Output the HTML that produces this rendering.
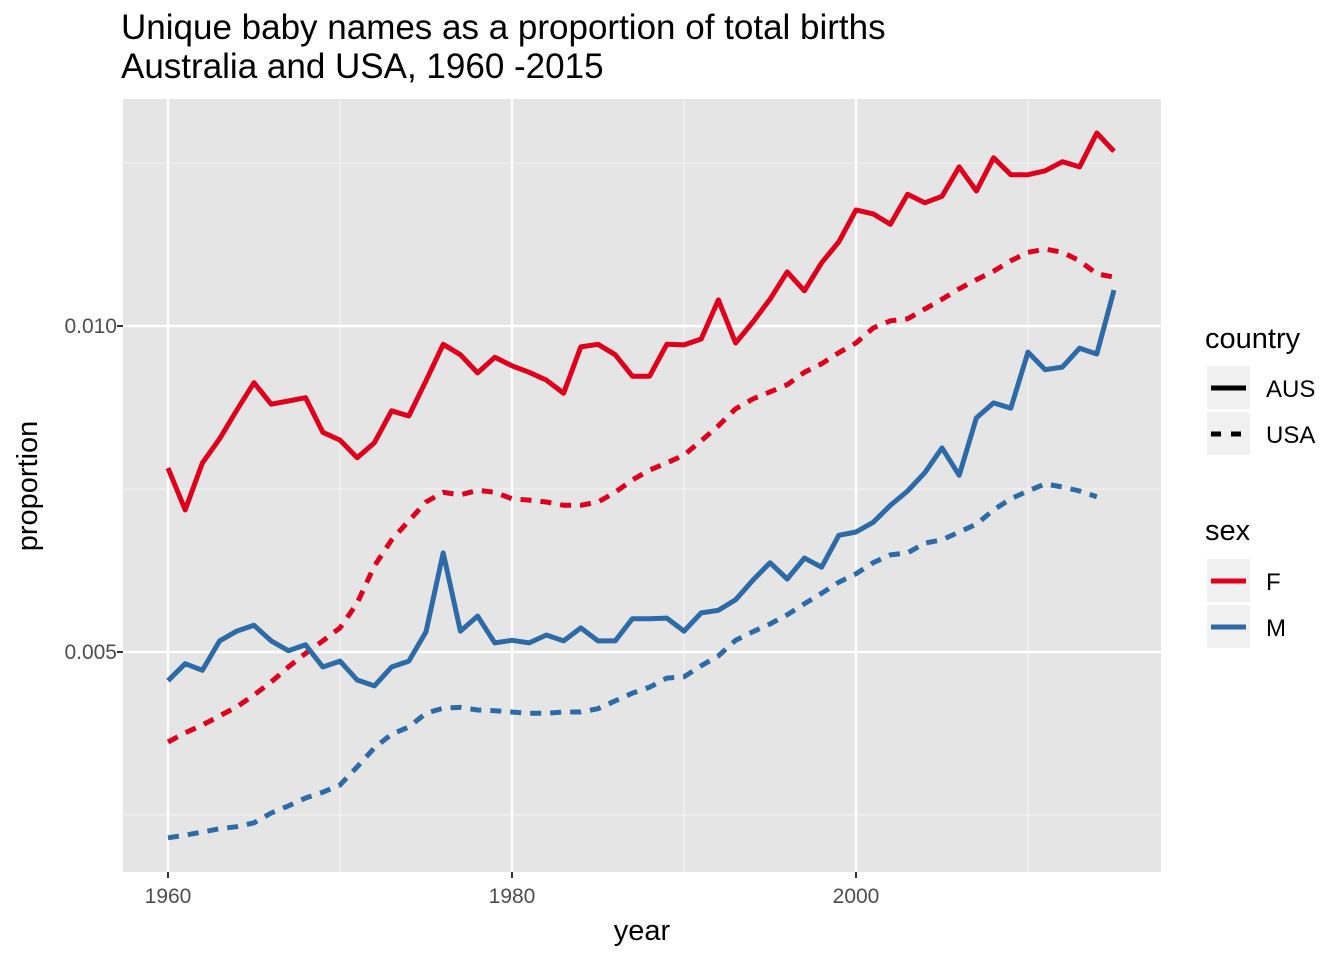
<!DOCTYPE html>
<html><head><meta charset="utf-8"><style>
body{margin:0;background:#fff;}
svg{display:block;font-family:"Liberation Sans",Arial,sans-serif;}
</style></head><body>
<svg id="chart" width="1344" height="960">
<text x="121" y="39" font-size="35" fill="#000">Unique baby names as a proportion of total births</text>
<text x="121" y="78" font-size="35" fill="#000">Australia and USA, 1960 -2015</text>
<rect x="123" y="99" width="1038" height="773" fill="#e5e5e5"/>
<g id="grid"></g>
<g id="series"></g>
<g id="axes"></g>
<text x="642" y="940" font-size="29" text-anchor="middle">year</text>
<text transform="translate(37,486) rotate(-90)" font-size="29" text-anchor="middle">proportion</text>
<g>
<text x="1205" y="348" font-size="29">country</text>
<rect x="1207" y="366" width="43" height="43" fill="#f0f0f0"/>
<line x1="1211" y1="388" x2="1246" y2="388" stroke="#000" stroke-width="5"/>
<text x="1266" y="397" font-size="24">AUS</text>
<rect x="1207" y="412" width="43" height="43" fill="#f0f0f0"/>
<line x1="1211" y1="434" x2="1246" y2="434" stroke="#000" stroke-width="5" stroke-dasharray="10,10"/>
<text x="1266" y="443" font-size="24">USA</text>
</g>
<g>
<text x="1205" y="540" font-size="29">sex</text>
<rect x="1207" y="559" width="43" height="43" fill="#f0f0f0"/>
<line x1="1211" y1="581" x2="1246" y2="581" stroke="#e0001b" stroke-width="5"/>
<text x="1266" y="590" font-size="24">F</text>
<rect x="1207" y="605" width="43" height="43" fill="#f0f0f0"/>
<line x1="1211" y1="627" x2="1246" y2="627" stroke="#2d6aa8" stroke-width="5"/>
<text x="1266" y="636" font-size="24">M</text>
</g>
</svg>
<script>
// values in units of 0.001
const startYear = 1960;
const ausF = [7.82,7.18,7.90,8.27,8.71,9.13,8.80,8.85,8.90,8.37,8.25,7.98,8.21,8.70,8.62,9.16,9.72,9.56,9.28,9.52,9.39,9.29,9.17,8.97,9.68,9.72,9.56,9.23,9.23,9.72,9.71,9.80,10.40,9.74,10.06,10.41,10.83,10.54,10.97,11.29,11.78,11.72,11.56,12.02,11.89,11.99,12.44,12.07,12.58,12.32,12.32,12.38,12.52,12.44,12.96,12.68];
const usaF = [3.62,3.76,3.88,4.02,4.16,4.34,4.54,4.77,4.98,5.17,5.37,5.75,6.32,6.72,7.01,7.30,7.45,7.41,7.48,7.45,7.35,7.33,7.30,7.25,7.25,7.30,7.45,7.64,7.79,7.90,8.02,8.24,8.47,8.73,8.88,8.99,9.10,9.29,9.42,9.59,9.74,9.97,10.08,10.11,10.26,10.41,10.57,10.71,10.84,11.00,11.13,11.18,11.13,11.00,10.80,10.75];
const ausM = [4.56,4.82,4.72,5.17,5.32,5.41,5.17,5.02,5.11,4.77,4.86,4.57,4.48,4.77,4.86,5.31,6.52,5.32,5.55,5.14,5.18,5.14,5.26,5.17,5.37,5.17,5.17,5.51,5.51,5.52,5.32,5.60,5.64,5.80,6.10,6.37,6.12,6.44,6.30,6.79,6.84,6.99,7.25,7.47,7.75,8.13,7.71,8.59,8.82,8.74,9.60,9.33,9.37,9.66,9.57,10.55];
const usaM = [2.15,2.19,2.24,2.29,2.32,2.38,2.53,2.64,2.76,2.85,2.96,3.24,3.53,3.74,3.85,4.06,4.14,4.15,4.11,4.10,4.08,4.06,4.06,4.08,4.08,4.13,4.25,4.37,4.46,4.60,4.62,4.79,4.94,5.18,5.31,5.43,5.57,5.74,5.90,6.07,6.20,6.37,6.49,6.52,6.67,6.72,6.84,6.96,7.18,7.35,7.47,7.58,7.53,7.47,7.38];
const xTicks = [1960,1980,2000];
const xMinor = [1970,1990,2010];
const yTicks = [5,10];
const yTickLabels = ["0.005","0.010"];
const yMinor = [2.5,7.5,12.5];

const NS="http://www.w3.org/2000/svg";
const X = yr => 168 + (yr-1960)*17.2;
const Y = v => 326 - (v-10)*65.2;
function mk(tag, attrs, parent){const e=document.createElementNS(NS,tag);for(const k in attrs)e.setAttribute(k,attrs[k]);parent.appendChild(e);return e;}
const grid=document.getElementById('grid'), axes=document.getElementById('axes'), series=document.getElementById('series');
yMinor.forEach(v=>{const l=mk('line',{x1:123,x2:1161,y1:Y(v),y2:Y(v),stroke:'#f2f2f2','stroke-width':1.2},grid);

});
xMinor.forEach(v=>{const l=mk('line',{x1:X(v),x2:X(v),y1:99,y2:872,stroke:'#f2f2f2','stroke-width':1.2},grid);

});
yTicks.forEach((v,i)=>{const l=mk('line',{x1:123,x2:1161,y1:Y(v),y2:Y(v),stroke:'#fff','stroke-width':2.4},grid);


const t=mk('line',{x1:117,x2:123,y1:Y(v),y2:Y(v),stroke:'#333','stroke-width':2},axes);


const tx=mk('text',{x:117,y:Y(v)+7,'font-size':21,'text-anchor':'end',fill:'#4d4d4d'},axes);tx.textContent=yTickLabels[i];

});
xTicks.forEach(v=>{const l=mk('line',{x1:X(v),x2:X(v),y1:99,y2:872,stroke:'#fff','stroke-width':2.4},grid);


const t=mk('line',{x1:X(v),x2:X(v),y1:872,y2:878,stroke:'#333','stroke-width':2},axes);


const tx=mk('text',{x:X(v),y:903,'font-size':21,'text-anchor':'middle',fill:'#4d4d4d'},axes);tx.textContent=v;

});
function draw(arr,color,dash,name){
  const pts=arr.map((v,i)=>X(startYear+i).toFixed(1)+','+Y(v).toFixed(1)).join(' ');
  const p=mk('polyline',{points:pts,fill:'none',stroke:color,'stroke-width':5,'stroke-linejoin':'round'},series);
  if(dash)p.setAttribute('stroke-dasharray','11,9');
  
  
}
draw(usaM,'#2d6aa8',true,'line-usa-m');
draw(usaF,'#e0001b',true,'line-usa-f');
draw(ausM,'#2d6aa8',false,'line-aus-m');
draw(ausF,'#e0001b',false,'line-aus-f');
</script>
</body></html>
